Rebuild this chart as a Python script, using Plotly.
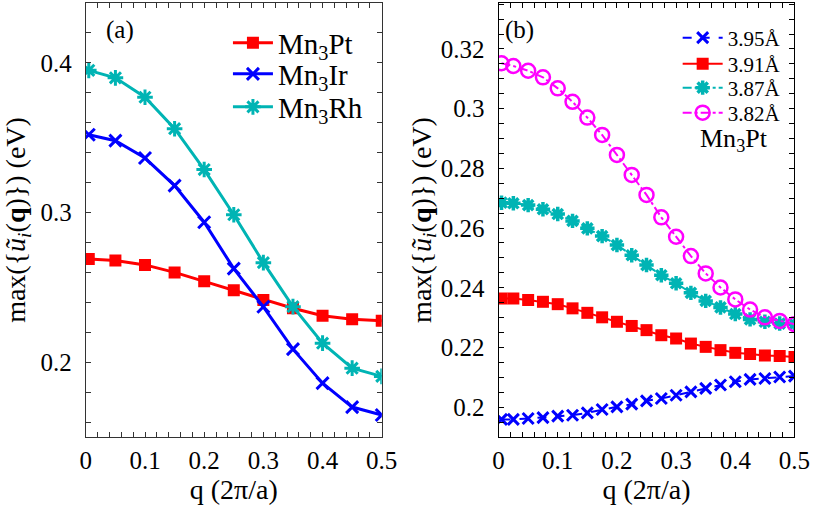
import plotly.graph_objects as go

# ---------------- data ----------------
q_a = [0.005, 0.05, 0.1, 0.15, 0.2, 0.25, 0.3, 0.35, 0.4, 0.45, 0.5]
mn3pt_a = [0.269, 0.268, 0.265, 0.260, 0.254, 0.248, 0.2415, 0.236, 0.231, 0.2287, 0.2276]
mn3ir_a = [0.352, 0.348, 0.3364, 0.318, 0.2935, 0.2625, 0.237, 0.2087, 0.186, 0.170, 0.1647]
mn3rh_a = [0.395, 0.390, 0.377, 0.356, 0.3287, 0.2985, 0.2665, 0.2371, 0.2127, 0.196, 0.1905]
names_a = ["Mn<sub>3</sub>Pt", "Mn<sub>3</sub>Ir", "Mn<sub>3</sub>Rh"]

q_b = [0.005, 0.025, 0.05, 0.075, 0.1, 0.125, 0.15, 0.175, 0.2, 0.225, 0.25,
       0.275, 0.3, 0.325, 0.35, 0.375, 0.4, 0.425, 0.45, 0.475, 0.5]
a395 = [0.1959, 0.1959, 0.1962, 0.1965, 0.1970, 0.1973, 0.1981, 0.1992, 0.2001, 0.2010, 0.2021,
        0.2029, 0.2040, 0.2051, 0.2063, 0.2074, 0.2085, 0.2093, 0.2096, 0.2101, 0.2104]
a391 = [0.2364, 0.2364, 0.2359, 0.2353, 0.2345, 0.2331, 0.2316, 0.2301, 0.2286, 0.2272, 0.2258,
        0.2241, 0.2230, 0.2213, 0.2202, 0.2191, 0.2182, 0.2178, 0.2173, 0.2171, 0.2168]
a387 = [0.2685, 0.2683, 0.2677, 0.2663, 0.2647, 0.2624, 0.2599, 0.2573, 0.2543, 0.2509, 0.2476,
        0.2442, 0.2415, 0.2383, 0.2356, 0.2334, 0.2312, 0.2294, 0.2286, 0.2280, 0.2278]
a382 = [0.3152, 0.3143, 0.3127, 0.3105, 0.3068, 0.3023, 0.2970, 0.2912, 0.2845, 0.2778, 0.2711,
        0.2636, 0.2571, 0.2506, 0.2448, 0.2401, 0.2361, 0.2327, 0.2301, 0.2289, 0.2278]
names_b = ["3.95Å", "3.91Å", "3.87Å", "3.82Å"]

x_ticks = [0, 0.1, 0.2, 0.3, 0.4, 0.5]
x_ticklabels = ["0", "0.1", "0.2", "0.3", "0.4", "0.5"]
ya_ticks = [0.2, 0.3, 0.4]
ya_ticklabels = ["0.2", "0.3", "0.4"]
yb_ticks = [0.2, 0.22, 0.24, 0.26, 0.28, 0.3, 0.32]
yb_ticklabels = ["0.2", "0.22", "0.24", "0.26", "0.28", "0.3", "0.32"]

# ---------------- style ----------------
FONT = "Liberation Serif"
RED, BLUE, CYAN, MAG = "#FF0000", "#0000FF", "#00B4B4", "#FF00FF"
W, H = 828, 513

def px(x):
    return x / W

def py(y):
    return 1 - y / H

fig = go.Figure()

# panel (a)
fig.add_trace(go.Scatter(x=q_a, y=mn3pt_a, name=names_a[0], mode="lines+markers",
                         line=dict(color=RED, width=3),
                         marker=dict(symbol="square", size=12, color=RED),
                         xaxis="x", yaxis="y", legend="legend"))
fig.add_trace(go.Scatter(x=q_a, y=mn3ir_a, name=names_a[1], mode="lines+markers",
                         line=dict(color=BLUE, width=3),
                         marker=dict(symbol="x-thin", size=12, color=BLUE,
                                     line=dict(color=BLUE, width=3)),
                         xaxis="x", yaxis="y", legend="legend2"))
fig.add_trace(go.Scatter(x=q_a, y=mn3rh_a, name=names_a[2], mode="lines+markers",
                         line=dict(color=CYAN, width=3),
                         marker=dict(symbol="asterisk", size=13, color=CYAN,
                                     line=dict(color=CYAN, width=3)),
                         xaxis="x", yaxis="y", legend="legend3"))

# panel (b)
fig.add_trace(go.Scatter(x=q_b, y=a395, name=names_b[0], mode="lines+markers",
                         line=dict(color=BLUE, width=2, dash="dash"),
                         marker=dict(symbol="x-thin", size=11, color=BLUE,
                                     line=dict(color=BLUE, width=3)),
                         xaxis="x2", yaxis="y2", legend="legend4"))
fig.add_trace(go.Scatter(x=q_b, y=a391, name=names_b[1], mode="lines+markers",
                         line=dict(color=RED, width=2),
                         marker=dict(symbol="square", size=12, color=RED),
                         xaxis="x2", yaxis="y2", legend="legend5"))
fig.add_trace(go.Scatter(x=q_b, y=a387, name=names_b[2], mode="lines+markers",
                         line=dict(color=CYAN, width=2, dash="dashdot"),
                         marker=dict(symbol="asterisk", size=12, color=CYAN,
                                     line=dict(color=CYAN, width=3.5)),
                         xaxis="x2", yaxis="y2", legend="legend6"))
fig.add_trace(go.Scatter(x=q_b, y=a382, name=names_b[3], mode="lines+markers",
                         line=dict(color=MAG, width=2, dash="dashdot"),
                         marker=dict(symbol="circle-open", size=14, color=MAG,
                                     line=dict(color=MAG, width=2.5)),
                         xaxis="x2", yaxis="y2", legend="legend7"))

tickfont = dict(family=FONT, size=25, color="black")
titlefont = dict(family=FONT, size=28, color="black")

def xaxis_cfg(domain, color, anchor):
    return dict(domain=domain, anchor=anchor, range=[0, 0.5], tickmode="array",
                tickvals=x_ticks, ticktext=x_ticklabels, ticks="inside", ticklen=5,
                tickcolor=color, linecolor=color, linewidth=1, mirror="ticks",
                showline=True, showgrid=False, zeroline=False, tickfont=tickfont,
                ticklabelstandoff=1,
                minor=dict(dtick=0.02, tick0=0, ticks="inside", ticklen=5, tickcolor=color,
                           showgrid=False),
                title=dict(text="q (2π/a)", font=titlefont, standoff=0))

def yaxis_cfg(domain, color, anchor, rng, tv, tt, mdt, standoff):
    return dict(domain=domain, anchor=anchor, range=rng, tickmode="array",
                tickvals=tv, ticktext=tt, ticks="inside", ticklen=5,
                tickcolor=color, linecolor=color, linewidth=1, mirror="ticks",
                showline=True, showgrid=False, zeroline=False, tickfont=tickfont,
                ticklabelstandoff=8,
                minor=dict(dtick=mdt, tick0=0, ticks="inside", ticklen=5, tickcolor=color,
                           showgrid=False),
                title=dict(text="max({<i>ũ</i><sub><i>i</i></sub>(<b>q</b>)}) (eV)",
                           font=titlefont, standoff=standoff))

def one_legend(xl, yc, size):
    return dict(x=px(xl), y=py(yc), xanchor="left", yanchor="middle",
                bgcolor="rgba(0,0,0,0)", font=dict(family=FONT, size=size, color="black"),
                itemwidth=40)

ydom = [py(437), py(3)]
fig.update_layout(
    width=W, height=H,
    margin=dict(l=0, r=0, t=0, b=0),
    paper_bgcolor="white", plot_bgcolor="white",
    font=dict(family=FONT, color="black"),
    xaxis=xaxis_cfg([px(82), px(386)], "#333333", "y"),
    yaxis=yaxis_cfg(ydom, "#333333", "x", [0.15, 0.44], ya_ticks, ya_ticklabels, 0.02, 6),
    xaxis2=xaxis_cfg([px(506), px(810)], "black", "y2"),
    yaxis2=yaxis_cfg(ydom, "black", "x2", [0.19, 0.3354], yb_ticks, yb_ticklabels, 0.005, 1),
    legend=one_legend(228, 43, 29),
    legend2=one_legend(228, 74, 29),
    legend3=one_legend(228, 107, 29),
    legend4=one_legend(690, 38, 21),
    legend5=one_legend(690, 64, 21),
    legend6=one_legend(690, 88, 21),
    legend7=one_legend(690, 113, 21),
    showlegend=True,
    annotations=[
        dict(text="(a)", x=px(101), y=py(30), xref="paper", yref="paper",
             xanchor="left", yanchor="middle", showarrow=False,
             font=dict(family=FONT, size=25, color="black")),
        dict(text="(b)", x=px(511), y=py(30), xref="paper", yref="paper",
             xanchor="left", yanchor="middle", showarrow=False,
             font=dict(family=FONT, size=25, color="black")),
        dict(text="Mn<sub>3</sub>Pt", x=px(785), y=py(140), xref="paper", yref="paper",
             xanchor="right", yanchor="middle", showarrow=False,
             font=dict(family=FONT, size=26, color="black")),
    ],
)

fig.write_html("out.html")
